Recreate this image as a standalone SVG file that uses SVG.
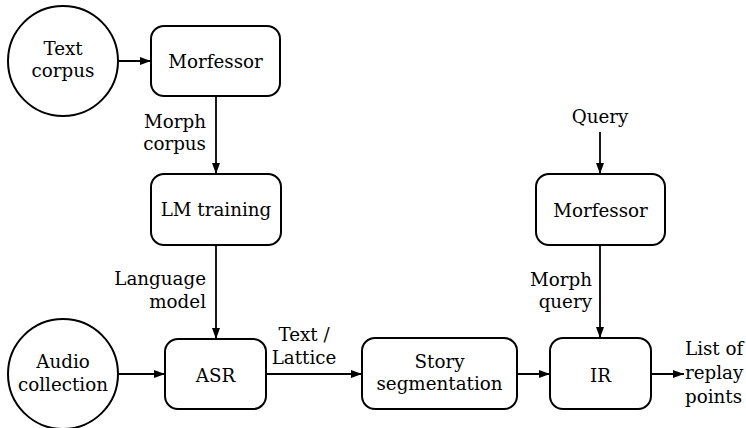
<svg xmlns="http://www.w3.org/2000/svg" width="746" height="428" viewBox="0 0 746 428">
  <style>
    .node { fill: #ffffff; stroke: #000000; stroke-width: 2; }
    .edge { fill: none; stroke: #000000; stroke-width: 1.8; }
    text { font-family: "DejaVu Serif", "Liberation Serif", serif; font-size: 18.3px; fill: #000000; }
    .c { text-anchor: middle; }
    .r { text-anchor: end; }
    .l { text-anchor: start; }
  </style>
  <defs>
    <marker id="arrow" viewBox="0 0 11 8" refX="11" refY="4" markerWidth="11" markerHeight="8" markerUnits="userSpaceOnUse" orient="auto">
      <path d="M0,0 L11,4 L0,8 Z" fill="#000000"/>
    </marker>
  </defs>
  <rect width="746" height="428" fill="#ffffff"/>

  <g id="connectors">
    <line class="edge" x1="118" y1="61" x2="151" y2="61" marker-end="url(#arrow)"/>
    <line class="edge" x1="216" y1="96" x2="216" y2="174" marker-end="url(#arrow)"/>
    <line class="edge" x1="216" y1="245" x2="216" y2="339" marker-end="url(#arrow)"/>
    <line class="edge" x1="119" y1="374" x2="165" y2="374" marker-end="url(#arrow)"/>
    <line class="edge" x1="266" y1="374" x2="362" y2="374" marker-end="url(#arrow)"/>
    <line class="edge" x1="517" y1="374" x2="550" y2="374" marker-end="url(#arrow)"/>
    <line class="edge" x1="651" y1="374" x2="684" y2="374" marker-end="url(#arrow)"/>
    <line class="edge" x1="600" y1="132" x2="600" y2="174" marker-end="url(#arrow)"/>
    <line class="edge" x1="600" y1="245" x2="600" y2="338" marker-end="url(#arrow)"/>
    <text class="r" x="206" y="128">Morph</text>
    <text class="r" x="206" y="150">corpus</text>
    <text class="r" x="206" y="285">Language</text>
    <text class="r" x="206" y="308">model</text>
    <text class="c" x="304" y="341">Text /</text>
    <text class="c" x="304" y="364">Lattice</text>
    <text class="r" x="592" y="286">Morph</text>
    <text class="r" x="592" y="308">query</text>
    <text class="l" x="685" y="355">List of</text>
    <text class="l" x="685" y="379">replay</text>
    <text class="l" x="685" y="403">points</text>
  </g>

  <g id="text-corpus">
    <circle class="node" cx="63" cy="61" r="55"/>
    <text class="c" x="63" y="55">Text</text>
    <text class="c" x="63" y="77">corpus</text>
  </g>
  <g id="morfessor-corpus">
    <rect class="node" x="151" y="26" width="129" height="70" rx="13"/>
    <text class="c" x="215.5" y="68">Morfessor</text>
  </g>
  <g id="lm-training">
    <rect class="node" x="151" y="174" width="130" height="71" rx="13"/>
    <text class="c" x="216" y="216">LM training</text>
  </g>
  <g id="audio-collection">
    <circle class="node" cx="63" cy="374" r="55"/>
    <text class="c" x="63" y="368">Audio</text>
    <text class="c" x="63" y="391">collection</text>
  </g>
  <g id="asr">
    <rect class="node" x="165" y="339" width="101" height="70" rx="13"/>
    <text class="c" x="215.5" y="382">ASR</text>
  </g>
  <g id="story-segmentation">
    <rect class="node" x="362" y="338" width="155" height="71" rx="13"/>
    <text class="c" x="439.5" y="368">Story</text>
    <text class="c" x="439.5" y="390">segmentation</text>
  </g>
  <g id="query">
    <text class="c" x="600" y="123">Query</text>
  </g>
  <g id="morfessor-query">
    <rect class="node" x="536" y="174" width="129" height="71" rx="13"/>
    <text class="c" x="600.5" y="217">Morfessor</text>
  </g>
  <g id="ir">
    <rect class="node" x="550" y="338" width="101" height="71" rx="13"/>
    <text class="c" x="600.5" y="382">IR</text>
  </g>
</svg>
